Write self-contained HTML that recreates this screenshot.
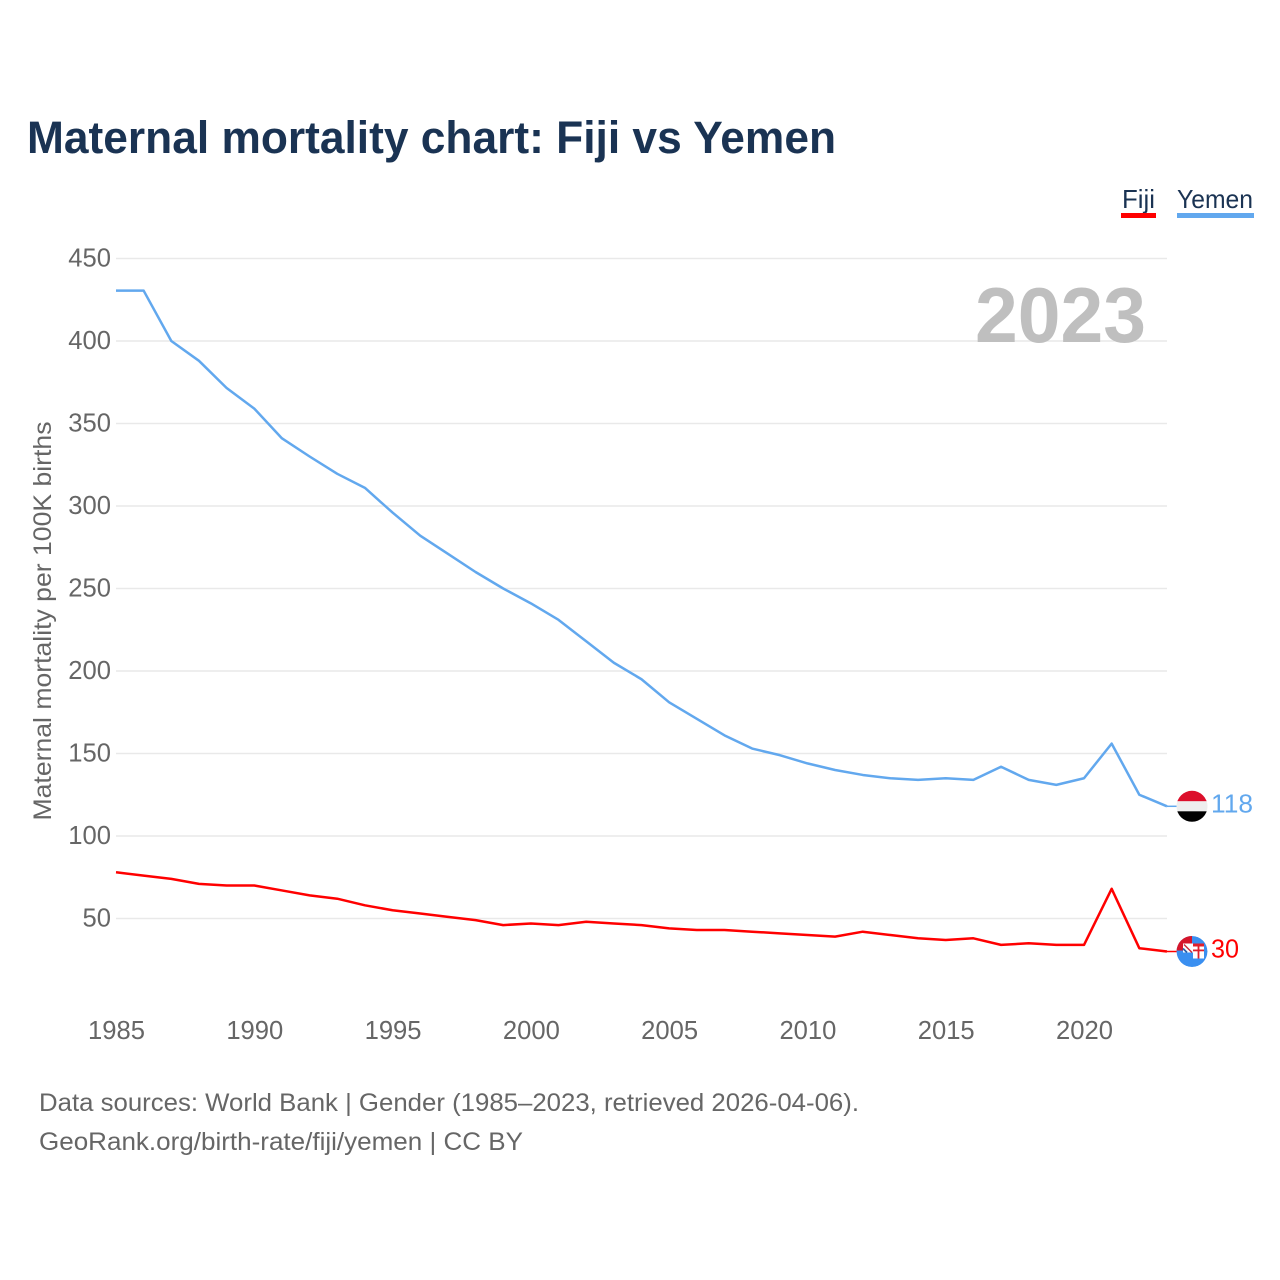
<!DOCTYPE html>
<html lang="en">
<head>
<meta charset="utf-8">
<title>Maternal mortality chart: Fiji vs Yemen</title>
<style>
html,body{margin:0;padding:0;background:#fff;}
svg{display:block;font-family:"Liberation Sans",sans-serif;}
</style>
</head>
<body>
<svg id="chart" width="1280" height="1280" viewBox="0 0 1280 1280" xmlns="http://www.w3.org/2000/svg">
  <defs>
    <clipPath id="yemen-clip"><circle cx="0" cy="0" r="15.5"/></clipPath>
    <clipPath id="fiji-clip"><circle cx="0" cy="0" r="15.5"/></clipPath>
  </defs>
  <rect width="1280" height="1280" fill="#ffffff"/>
  <text x="27" y="153" font-size="45" font-weight="700" fill="#1a3353" textLength="809" lengthAdjust="spacingAndGlyphs">Maternal mortality chart: Fiji vs Yemen</text>

  <g>
    <text x="1122" y="208" font-size="26" fill="#1a3353" textLength="33" lengthAdjust="spacingAndGlyphs">Fiji</text>
    <rect x="1121" y="213" width="35" height="5" fill="#ff0000"/>
    <text x="1177" y="208" font-size="26" fill="#1a3353" textLength="76" lengthAdjust="spacingAndGlyphs">Yemen</text>
    <rect x="1177" y="213" width="77" height="5" fill="#62a8ee"/>
  </g>

  <g id="grid"></g>
  <g id="y-labels"></g>
  <g id="x-labels"></g>

  <text x="975" y="342" font-size="78" font-weight="700" fill="#bfbfbf" textLength="171" lengthAdjust="spacingAndGlyphs">2023</text>

  <text transform="translate(51 820.5) rotate(-90)" font-size="25" fill="#666666" textLength="399" lengthAdjust="spacingAndGlyphs">Maternal mortality per 100K births</text>

  <polyline id="line-yemen" fill="none" stroke="#62a8ee" stroke-width="2.5" stroke-linejoin="round"/>
  <polyline id="line-fiji" fill="none" stroke="#ff0000" stroke-width="2.5" stroke-linejoin="round"/>
  <line id="connector-yemen" x1="1167" x2="1178" stroke="#62a8ee" stroke-width="1.5"/>
  <line id="connector-fiji" x1="1167" x2="1178" stroke="#ff0000" stroke-width="1.5"/>

  <g id="flag-yemen">
    <g clip-path="url(#yemen-clip)">
      <rect x="-16" y="-16" width="32" height="11" fill="#dc0f2b"/>
      <rect x="-16" y="-5" width="32" height="10" fill="#eeeeee"/>
      <rect x="-16" y="5" width="32" height="11" fill="#000000"/>
    </g>
  </g>
  <text id="end-label-yemen" x="1211" font-size="26" fill="#62a8ee" textLength="42" lengthAdjust="spacingAndGlyphs"></text>

  <g id="flag-fiji">
    <g clip-path="url(#fiji-clip)">
      <circle cx="0" cy="0" r="15.5" fill="#3a8ff0"/>
      <rect x="-16" y="-16" width="16" height="15" fill="#d5152b"/>
      <rect x="-9" y="-8" width="10" height="9" fill="#ffffff"/>
      <path d="M-8 -7 L0 1" stroke="#c8283c" stroke-width="1.4"/>
      <path d="M-9 -3 L-5 1" stroke="#2a5fa8" stroke-width="1.8"/>
      <rect x="1" y="-8" width="11" height="15" fill="#ffffff"/>
      <rect x="1" y="-8" width="11" height="3" fill="#e0202c"/>
      <rect x="1" y="-2" width="11" height="1.8" fill="#e0202c"/>
      <rect x="5.6" y="-5" width="1.8" height="12" fill="#e0202c"/>
    </g>
  </g>
  <text id="end-label-fiji" x="1211" font-size="26" fill="#ff0000" textLength="28" lengthAdjust="spacingAndGlyphs"></text>

  <g>
    <text x="39" y="1111" font-size="25" fill="#666666" textLength="820" lengthAdjust="spacingAndGlyphs">Data sources: World Bank | Gender (1985–2023, retrieved 2026-04-06).</text>
    <text x="39" y="1150" font-size="25" fill="#666666" textLength="484" lengthAdjust="spacingAndGlyphs">GeoRank.org/birth-rate/fiji/yemen | CC BY</text>
  </g>
</svg>
<script>
const years = [1985,1986,1987,1988,1989,1990,1991,1992,1993,1994,1995,1996,1997,1998,1999,2000,2001,2002,2003,2004,2005,2006,2007,2008,2009,2010,2011,2012,2013,2014,2015,2016,2017,2018,2019,2020,2021,2022,2023];
const yemenValues = [430.5,430.5,400,388,371.5,359,341,330,319.5,311,296,282,271,260,250,241,231,218,205,195,181,171,161,153,149,144,140,137,135,134,135,134,142,134,131,135,156,125,118];
const fijiValues = [78,76,74,71,70,70,67,64,62,58,55,53,51,49,46,47,46,48,47,46,44,43,43,42,41,40,39,42,40,38,37,38,34,35,34,34,68,32,30];
const yTicks = [50,100,150,200,250,300,350,400,450];
const xTicks = [1985,1990,1995,2000,2005,2010,2015,2020];

const SVG_NS = 'http://www.w3.org/2000/svg';
function xScale(year){ return 116 + (year - 1985) * (1084 - 116) / 35; }
function yScale(value){ return 918.5 - (value - 50) * (918.5 - 258.5) / 400; }

const gridGroup = document.getElementById('grid');
const yLabelGroup = document.getElementById('y-labels');
const xLabelGroup = document.getElementById('x-labels');

yTicks.forEach(function(tick){
  const line = document.createElementNS(SVG_NS, 'line');
  
  
  line.setAttribute('x1', 116);
  line.setAttribute('x2', 1167);
  line.setAttribute('y1', yScale(tick));
  line.setAttribute('y2', yScale(tick));
  line.setAttribute('stroke', '#e9e9e9');
  line.setAttribute('stroke-width', '1.4');
  gridGroup.appendChild(line);

  const label = document.createElementNS(SVG_NS, 'text');
  
  
  label.setAttribute('x', 111);
  label.setAttribute('y', yScale(tick) + 8);
  label.setAttribute('text-anchor', 'end');
  label.setAttribute('font-size', '25.6');
  label.setAttribute('fill', '#666666');
  label.textContent = String(tick);
  yLabelGroup.appendChild(label);
});

xTicks.forEach(function(tick){
  const label = document.createElementNS(SVG_NS, 'text');
  
  
  label.setAttribute('x', xScale(tick) + 0.5);
  label.setAttribute('y', 1039);
  label.setAttribute('text-anchor', 'middle');
  label.setAttribute('font-size', '25.6');
  label.setAttribute('fill', '#666666');
  label.textContent = String(tick);
  xLabelGroup.appendChild(label);
});

function toPoints(values){
  return values.map(function(v, i){ return xScale(years[i]).toFixed(2) + ',' + yScale(v).toFixed(2); }).join(' ');
}
document.getElementById('line-yemen').setAttribute('points', toPoints(yemenValues));
document.getElementById('line-fiji').setAttribute('points', toPoints(fijiValues));

const lastYemen = yemenValues[yemenValues.length - 1];
const lastFiji = fijiValues[fijiValues.length - 1];
document.getElementById('flag-yemen').setAttribute('transform', 'translate(1192 ' + yScale(lastYemen) + ')');
document.getElementById('flag-fiji').setAttribute('transform', 'translate(1192 ' + yScale(lastFiji) + ')');
const connectorYemen = document.getElementById('connector-yemen');
connectorYemen.setAttribute('y1', yScale(lastYemen));
connectorYemen.setAttribute('y2', yScale(lastYemen));
const connectorFiji = document.getElementById('connector-fiji');
connectorFiji.setAttribute('y1', yScale(lastFiji));
connectorFiji.setAttribute('y2', yScale(lastFiji));
const yemenLabel = document.getElementById('end-label-yemen');
yemenLabel.setAttribute('y', yScale(lastYemen) + 6);
yemenLabel.textContent = String(lastYemen);
const fijiLabel = document.getElementById('end-label-fiji');
fijiLabel.setAttribute('y', yScale(lastFiji) + 6);
fijiLabel.textContent = String(lastFiji);
</script>
</body>
</html>
